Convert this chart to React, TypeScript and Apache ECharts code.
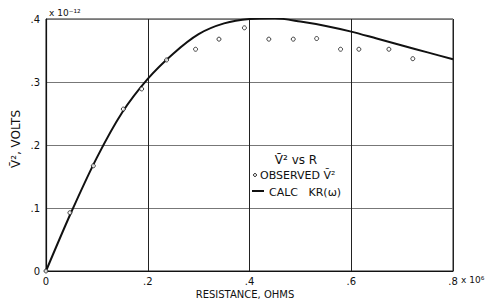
import React, { useEffect, useRef } from "react";
import * as echarts from "echarts";

const observedR = [0, 0.047, 0.093, 0.152, 0.188, 0.237, 0.294, 0.34, 0.39, 0.438, 0.486, 0.532, 0.579, 0.615, 0.674, 0.721];
const observedV = [0, 0.0925, 0.167, 0.257, 0.289, 0.335, 0.352, 0.368, 0.386, 0.368, 0.368, 0.369, 0.352, 0.352, 0.352, 0.337];

const calcR = [0, 0.05, 0.1, 0.15, 0.2, 0.25, 0.3, 0.35, 0.4, 0.45, 0.5, 0.55, 0.6, 0.65, 0.7, 0.75, 0.8];
const calcV = [0, 0.094, 0.18, 0.252, 0.305, 0.345, 0.376, 0.393, 0.4, 0.401, 0.396, 0.389, 0.38, 0.369, 0.358, 0.347, 0.336];

const xTicks = ["0", ".2", ".4", ".6", ".8"];
const yTicks = ["0", ".1", ".2", ".3", ".4"];

const FONT = "DejaVu Sans";

export default function App() {
  const ref = useRef<HTMLDivElement>(null);
  useEffect(() => {
    if (!ref.current) return;
    const chart = echarts.init(ref.current, null, { renderer: "svg" });
    const obs = observedR.map((r, i) => [r, observedV[i]]);
    const calc = calcR.map((r, i) => [r, calcV[i]]);
    chart.setOption({
      animation: false,
      backgroundColor: "#fff",
      grid: { left: 46, right: 32, top: 19, bottom: 30, show: true, borderColor: "#222", borderWidth: 1 },
      xAxis: {
        type: "value",
        min: 0,
        max: 0.8,
        interval: 0.2,
        axisLine: { show: true, lineStyle: { color: "#111", width: 1.2 } },
        axisTick: { show: false },
        axisLabel: {
          color: "#111",
          fontFamily: FONT,
          fontSize: 10,
          margin: 5,
          formatter: (v: number) => xTicks[Math.round(v / 0.2)],
        },
        splitLine: { show: true, lineStyle: { color: "#222", width: 1 } },
      },
      yAxis: {
        type: "value",
        min: 0,
        max: 0.4,
        interval: 0.1,
        axisLine: { show: true, lineStyle: { color: "#111", width: 1.2 } },
        axisTick: { show: false },
        axisLabel: {
          color: "#111",
          fontFamily: FONT,
          fontSize: 10,
          margin: 6,
          formatter: (v: number) => yTicks[Math.round(v / 0.1)],
        },
        splitLine: { show: true, lineStyle: { color: "#777", width: 1 } },
      },
      graphic: [
        { type: "text", left: 49, top: 8, style: { text: "x 10⁻¹²", fill: "#111", font: `9px ${FONT}` } },
        { type: "text", left: 461, top: 275, style: { text: "x 10⁶", fill: "#111", font: `9px ${FONT}` } },
        {
          type: "text",
          x: 245,
          y: 294,
          style: { text: "RESISTANCE, OHMS", fill: "#111", font: `10px ${FONT}`, align: "center", verticalAlign: "middle" },
        },
        {
          type: "text",
          x: 16,
          y: 139,
          rotation: Math.PI / 2,
          style: { text: "V\u0304², VOLTS", fill: "#111", font: `12px ${FONT}`, align: "center", verticalAlign: "middle" },
        },
        {
          type: "text",
          x: 296,
          y: 160,
          style: { text: "V\u0304² vs R", fill: "#111", font: `12px ${FONT}`, align: "center", verticalAlign: "middle" },
        },
        { type: "circle", shape: { cx: 255, cy: 175, r: 1.5 }, style: { fill: "#fff", stroke: "#111", lineWidth: 1 } },
        {
          type: "text",
          x: 260,
          y: 175,
          style: { text: "OBSERVED V\u0304²", fill: "#111", font: `11px ${FONT}`, verticalAlign: "middle" },
        },
        { type: "line", shape: { x1: 252, y1: 191, x2: 264, y2: 191 }, style: { stroke: "#111", lineWidth: 2 } },
        {
          type: "text",
          x: 269,
          y: 192,
          style: { text: "CALC   KR(ω)", fill: "#111", font: `11px ${FONT}`, verticalAlign: "middle" },
        },
      ],
      series: [
        {
          type: "line",
          data: calc,
          smooth: 0.3,
          showSymbol: false,
          lineStyle: { color: "#111", width: 2 },
          z: 3,
        },
        {
          type: "scatter",
          data: obs,
          symbol: "circle",
          symbolSize: 4,
          itemStyle: { color: "#fff", borderColor: "#111", borderWidth: 1 },
          z: 4,
        },
      ],
    });
    return () => chart.dispose();
  }, []);
  return <div ref={ref} style={{ width: 485, height: 301, position: "fixed", left: 0, top: 0 }} />;
}
